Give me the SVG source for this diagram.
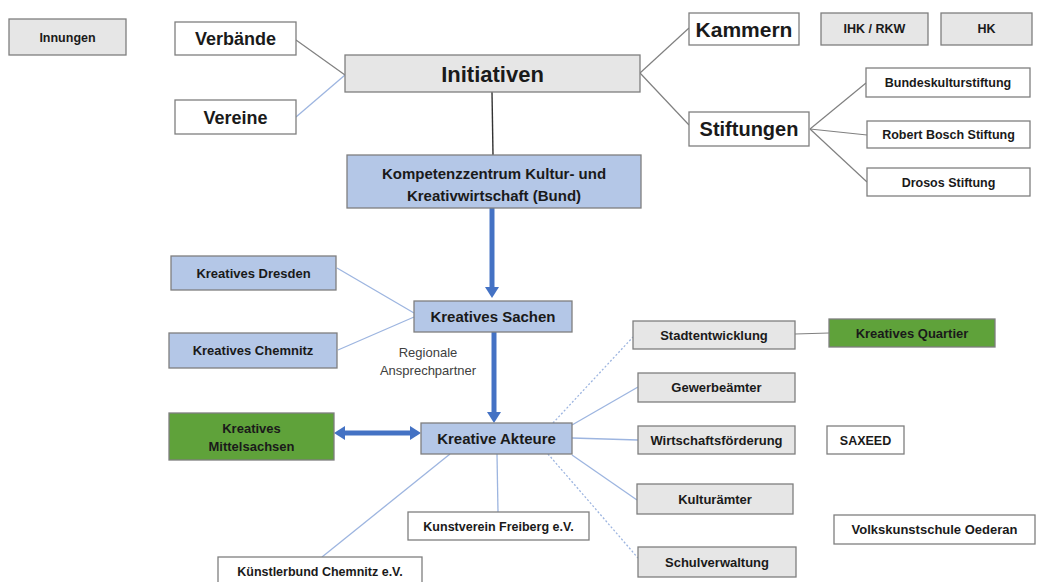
<svg xmlns="http://www.w3.org/2000/svg" width="1037" height="582" viewBox="0 0 1037 582">
<defs>
<style>
.b{stroke:#7f7f7f;stroke-width:1.3}
.g{fill:#e6e6e6}
.w{fill:#ffffff}
.bl{fill:#b4c7e7}
.gr{fill:#5fa23a}
text{font-family:"Liberation Sans",Arial,sans-serif;font-weight:bold;fill:#1a1a1a;text-anchor:middle}
text.n{font-weight:normal;fill:#404040;font-size:13px}
.s{font-size:12.5px}
.m{font-size:13px}
.k{font-size:15px}
.cg{stroke:#808080;stroke-width:1.2;fill:none}
.cb{stroke:#9db5e0;stroke-width:1.3;fill:none}
.cd{stroke:#9db5e0;stroke-width:1.3;stroke-dasharray:2 2;fill:none}
.ar{stroke:#4472c4;stroke-width:5;fill:none}
</style>
<marker id="ah" markerUnits="userSpaceOnUse" markerWidth="14" markerHeight="14" refX="0" refY="7" orient="auto-start-reverse" viewBox="0 0 14 14">
<path d="M0,0 L11,7 L0,14 z" fill="#4472c4"/>
</marker>
</defs>
<rect width="1037" height="582" fill="#ffffff"/>

<g id="connectors">
<line class="cg" x1="296" y1="40" x2="345" y2="75"/>
<line class="cb" x1="296" y1="117" x2="345" y2="75"/>
<line class="cg" x1="640" y1="73" x2="689" y2="28"/>
<line class="cg" x1="640" y1="73" x2="689" y2="125"/>
<line stroke="#333333" stroke-width="1.4" x1="492" y1="92" x2="493" y2="155"/>
<line class="cg" x1="810" y1="129" x2="866" y2="83"/>
<line class="cg" x1="810" y1="129" x2="867" y2="135"/>
<line class="cg" x1="810" y1="129" x2="867" y2="182"/>
<line class="ar" x1="492" y1="208" x2="492" y2="287" marker-end="url(#ah)"/>
<line class="cb" x1="337" y1="268" x2="414" y2="313"/>
<line class="cb" x1="338" y1="350" x2="414" y2="317"/>
<line class="ar" x1="494" y1="332" x2="494" y2="412" marker-end="url(#ah)"/>
<line class="ar" x1="345" y1="433" x2="410" y2="433" marker-start="url(#ah)" marker-end="url(#ah)"/>
<line class="cd" x1="553" y1="423" x2="633" y2="337"/>
<line class="cb" x1="572" y1="425" x2="638" y2="387"/>
<line class="cb" x1="572" y1="438" x2="638" y2="440"/>
<line class="cb" x1="572" y1="455" x2="637" y2="500"/>
<line class="cd" x1="548" y1="454" x2="638" y2="558"/>
<line class="cb" x1="497" y1="454" x2="498" y2="512"/>
<line class="cb" x1="450" y1="454" x2="322" y2="557"/>
<line class="cg" x1="795" y1="334" x2="829" y2="333"/>
</g>

<g id="innungen"><rect class="b g" x="9" y="19" width="117" height="36"/><text class="s" x="67.5" y="41.5">Innungen</text></g>
<g id="verbaende"><rect class="b w" x="175" y="22" width="121" height="33"/><text x="235.5" y="44.5" font-size="18">Verbände</text></g>
<g id="vereine"><rect class="b w" x="175" y="100" width="121" height="34"/><text x="235.5" y="123.5" font-size="18">Vereine</text></g>
<g id="initiativen"><rect class="b g" x="345" y="55" width="295" height="37"/><text x="492.5" y="81.5" font-size="22">Initiativen</text></g>
<g id="kammern"><rect class="b w" x="689" y="13" width="110" height="32"/><text x="744" y="36.5" font-size="21">Kammern</text></g>
<g id="ihk"><rect class="b g" x="821" y="13" width="107" height="32"/><text class="s" x="874.5" y="33">IHK / RKW</text></g>
<g id="hk"><rect class="b g" x="941" y="13" width="91" height="32"/><text class="s" x="986.5" y="33">HK</text></g>
<g id="stiftungen"><rect class="b w" x="689" y="112" width="120" height="34"/><text x="749" y="136" font-size="20">Stiftungen</text></g>
<g id="bundeskulturstiftung"><rect class="b w" x="866" y="68" width="164" height="29"/><text class="s" x="948" y="87">Bundeskulturstiftung</text></g>
<g id="bosch"><rect class="b w" x="867" y="121" width="163" height="27"/><text class="s" x="948.5" y="139">Robert Bosch Stiftung</text></g>
<g id="drosos"><rect class="b w" x="867" y="168" width="163" height="28"/><text class="s" x="948.5" y="186.5">Drosos Stiftung</text></g>
<g id="kompetenzzentrum"><rect class="b bl" x="347" y="155" width="294" height="53"/><text class="k" x="494" y="179">Kompetenzzentrum Kultur- und</text><text class="k" x="494" y="201">Kreativwirtschaft (Bund)</text></g>
<g id="dresden"><rect class="b bl" x="171" y="256" width="165" height="34"/><text class="m" x="253.5" y="277.5">Kreatives Dresden</text></g>
<g id="chemnitz"><rect class="b bl" x="169" y="333" width="168" height="35"/><text class="m" x="253" y="355">Kreatives Chemnitz</text></g>
<g id="sachen"><rect class="b bl" x="414" y="301" width="158" height="31"/><text class="k" x="493" y="322">Kreatives Sachen</text></g>
<g id="regionale"><text class="n" x="428" y="357">Regionale</text><text class="n" x="428" y="375">Ansprechpartner</text></g>
<g id="mittelsachsen"><rect class="b gr" x="169" y="413" width="165" height="47"/><text class="m" x="251.5" y="433">Kreatives</text><text class="m" x="251.5" y="451">Mittelsachsen</text></g>
<g id="akteure"><rect class="b bl" x="421" y="423" width="151" height="31"/><text class="k" x="496.5" y="444">Kreative Akteure</text></g>
<g id="kunstverein"><rect class="b w" x="408" y="512" width="181" height="28"/><text class="s" x="498.5" y="530.5">Kunstverein Freiberg e.V.</text></g>
<g id="kuenstlerbund"><rect class="b w" x="218" y="557" width="204" height="30"/><text class="s" x="320" y="576">Künstlerbund Chemnitz e.V.</text></g>
<g id="stadtentwicklung"><rect class="b g" x="633" y="321" width="162" height="28"/><text class="m" x="714" y="339.5">Stadtentwicklung</text></g>
<g id="quartier"><rect class="b gr" x="829" y="319" width="166" height="28"/><text class="m" x="912" y="337.5">Kreatives Quartier</text></g>
<g id="gewerbeaemter"><rect class="b g" x="638" y="373" width="157" height="29"/><text class="m" x="716.5" y="392">Gewerbeämter</text></g>
<g id="wirtschaftsfoerderung"><rect class="b g" x="638" y="426" width="157" height="28"/><text class="m" x="716.5" y="444.5">Wirtschaftsförderung</text></g>
<g id="saxeed"><rect class="b w" x="827" y="426" width="77" height="28"/><text class="s" x="865.5" y="444.5">SAXEED</text></g>
<g id="kulturaemter"><rect class="b g" x="637" y="484" width="156" height="30"/><text class="m" x="715" y="503.5">Kulturämter</text></g>
<g id="volkskunstschule"><rect class="b w" x="834" y="515" width="201" height="29"/><text class="m" x="934.5" y="534">Volkskunstschule Oederan</text></g>
<g id="schulverwaltung"><rect class="b g" x="638" y="547" width="158" height="30"/><text class="m" x="717" y="566.5">Schulverwaltung</text></g>
</svg>
